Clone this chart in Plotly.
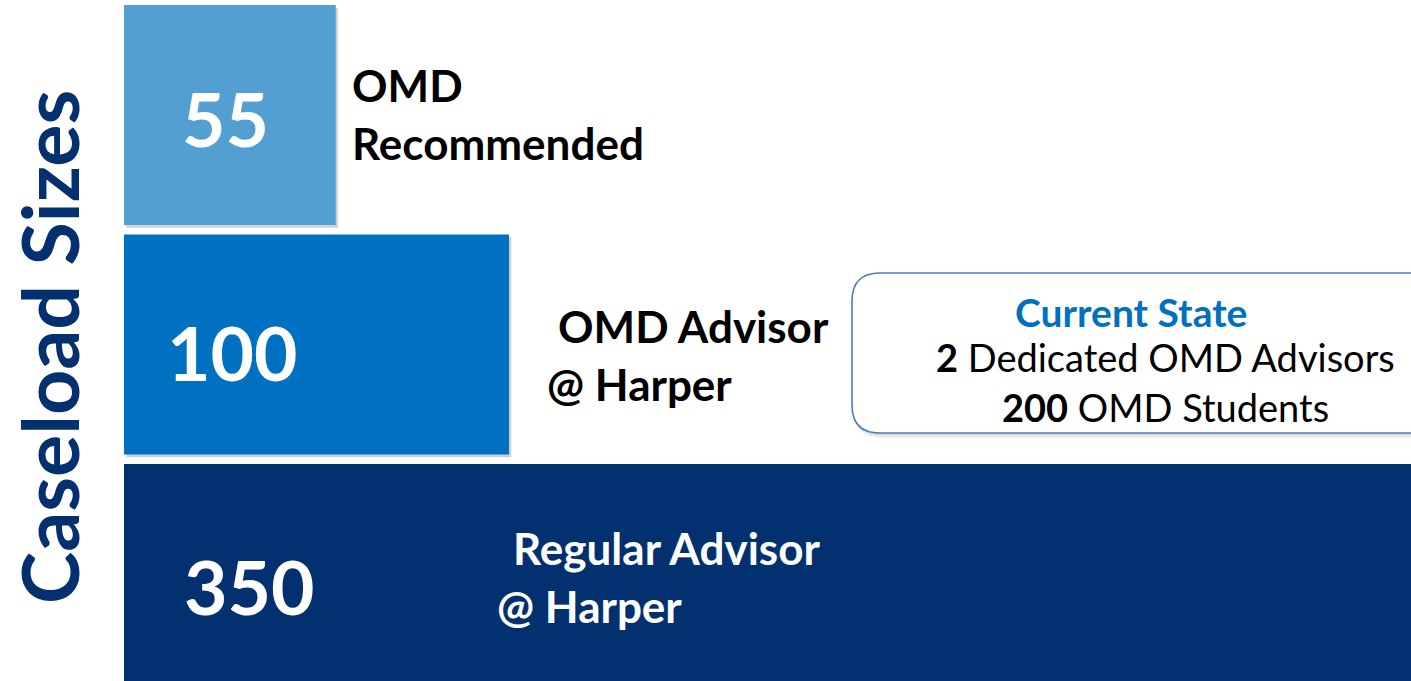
import plotly.graph_objects as go

# ---- data ----
categories = ["Regular Advisor @ Harper", "OMD Advisor @ Harper", "OMD Recommended"]
caseloads = [350, 100, 55]
positions = [0, 1, 2]
bar_colors = ["#03306f", "#0070c0", "#549fd2"]
title_text = "Caseload Sizes"
box_title = "Current State"
box_lines = ["<b>2</b> Dedicated OMD Advisors", "<b>200</b> OMD Students"]

W, H = 1411, 681
FONT = "Lato"

def px(x):
    return x / W

def py(y):
    return 1 - y / H

fig = go.Figure()

# subtle drop shadow behind bars
fig.add_trace(go.Bar(
    y=positions, x=caseloads, orientation="h",
    marker=dict(color="rgba(0,0,0,0.18)", line=dict(width=0)),
    width=0.958, offset=-0.958/2 - 0.012, base=0.6,
    hoverinfo="skip", showlegend=False,
))
fig.add_trace(go.Bar(
    y=positions, x=caseloads, orientation="h",
    marker=dict(color=bar_colors, line=dict(width=0)),
    width=0.958, showlegend=False,
    hovertext=categories, hoverinfo="text+x",
))

ann = []
def add(text, x, y, size, color="black", xanchor="left", bold=True, angle=0):
    ann.append(dict(
        text=(f"<b>{text}</b>" if bold else text), x=px(x), y=py(y),
        xref="paper", yref="paper", xanchor=xanchor, yanchor="middle",
        showarrow=False, textangle=angle,
        font=dict(family=FONT, size=size, color=color),
    ))

# numbers in bars
add(str(caseloads[2]), 225, 118, 75, "white", "center")
add(str(caseloads[1]), 232, 352, 75, "white", "center")
add(str(caseloads[0]), 249, 586, 75, "white", "center")

# bar labels
LS = 44
add("OMD", 350, 85, LS)
add("Recommended", 350, 143, LS)
add("OMD Advisor", 556, 326, LS)
add("@ Harper", 545, 384, LS)
add("Regular Advisor", 511, 548, LS, "white")
add("@ Harper", 495, 606, LS, "white")

# vertical title
add(title_text, 48, 347, 79, "#03306f", "center", angle=-90)

# current state box text
add(box_title, 1131, 312, 39, "#0070c0", "center")
add(box_lines[0], 1165, 357, 38, "black", "center", bold=False)
add(box_lines[1], 1165, 407, 38, "black", "center", bold=False)

# rounded box path (pixel -> paper)
def rounded_path(x0, y0, x1, y1, r):
    pts = [
        ("M", (x0 + r, y0)), ("L", (x1 - r, y0)), ("Q", (x1, y0), (x1, y0 + r)),
        ("L", (x1, y1 - r)), ("Q", (x1, y1), (x1 - r, y1)),
        ("L", (x0 + r, y1)), ("Q", (x0, y1), (x0, y1 - r)),
        ("L", (x0, y0 + r)), ("Q", (x0, y0), (x0 + r, y0)),
    ]
    s = ""
    for p in pts:
        cmd = p[0]
        coords = " ".join(f"{px(c[0]):.5f},{py(c[1]):.5f}" for c in p[1:])
        s += f"{cmd} {coords} "
    return s + "Z"

shapes = []
for i, a in enumerate([0.05, 0.05, 0.06]):
    off = 2 + i * 1.5
    shapes.append(dict(type="path", xref="paper", yref="paper",
                       path=rounded_path(852 + off * 0.5, 273 + off, 1480, 433 + off, 28),
                       fillcolor=f"rgba(0,0,0,{a})", line=dict(width=0), layer="above"))
shapes.append(dict(type="path", xref="paper", yref="paper",
                   path=rounded_path(852, 273, 1480, 433, 28),
                   fillcolor="white", line=dict(color="#4a7ebb", width=1.6), layer="above"))

fig.update_layout(
    width=W, height=H,
    margin=dict(l=0, r=0, t=0, b=0),
    paper_bgcolor="white", plot_bgcolor="white",
    barmode="overlay",
    xaxis=dict(range=[-124 / 3.85, -124 / 3.85 + W / 3.85], visible=False, fixedrange=True),
    yaxis=dict(range=[-0.466, 2.501], visible=False, fixedrange=True),
    shapes=shapes,
    annotations=ann,
    showlegend=False,
)

fig.write_html(
    "out.html",
    config={"displayModeBar": False},
    post_script="document.body.style.margin='0';document.body.style.overflow='hidden';",
)
